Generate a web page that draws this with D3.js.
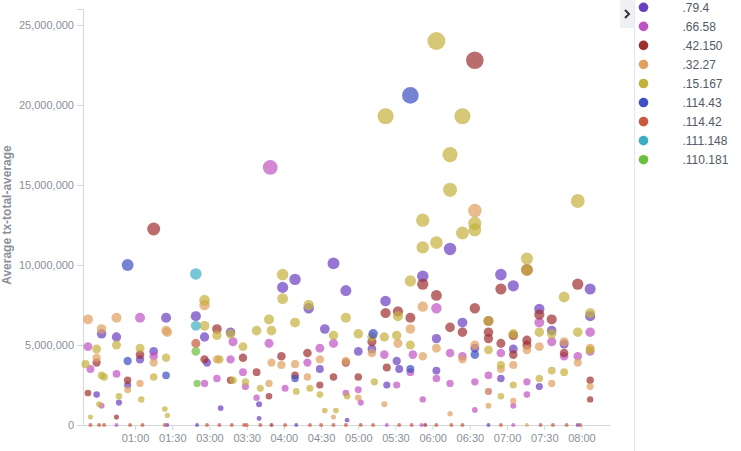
<!DOCTYPE html>
<html><head><meta charset="utf-8">
<script src="https://cdn.jsdelivr.net/npm/d3@7"></script>
<style>
html,body{margin:0;padding:0;background:#fff;}
svg{display:block;font-family:"Liberation Sans",Arial,Helvetica,sans-serif;}
</style></head>
<body>
<svg id="chart" width="741" height="451"></svg>
<script>
// ---- data (x = minutes along axis, y = value in millions) ----
const seriesNames = [".79.4", ".66.58", ".42.150", ".32.27", ".15.167", ".114.43", ".114.42", ".111.148", ".110.181"];
const seriesColors = ["#6a3fbf", "#bf52c2", "#9e2f2f", "#e0a05f", "#c4b13c", "#3c4fc3", "#c9583c", "#3caec3", "#6cbf3c"];
const xTickLabels = ["01:00","01:30","03:00","03:30","04:00","04:30","05:00","05:30","06:00","06:30","07:00","07:30","08:00"];
const yTickValues = [0, 5e6, 10e6, 15e6, 20e6, 25e6];

const s79_4 = [[314,11.0],[220,10.1],[189,9.1],[292,9.3],[355,9.4],[365,8.7],[427,8.5],[179,8.6],[230,8.4],[200,7.3],[262,7.75],[386,7.25],[427,6.8],[324,6.4],[396,5.9],[303,5.4],[365,4.75],[334,4.8],[406,5.06],[303,3.4],[355,2.9],[386,2.4],[213,6.0],[251,4.75],[240,4.6],[271,4.0],[273,3.5],[209,3.5],[263,2.5],[160,1.3],[160,0.4],[231,0.3],[85,6.7],[109,6.8],[137,5.8],[33,5.7],[45,5.5],[116,5.5],[75,4.6],[64,4.1],[118,3.9],[54,2.5],[29,1.9],[47,1.4],[129,1.06],[86,0],[110,0],[190,0],[345,0],[417,0]];
const s66_58 = [[169,16.1],[303,7.3],[386,6.4],[396,5.2],[427,5.8],[355,4.5],[314,4.5],[324,4.3],[406,4.3],[417,4.3],[427,4.6],[303,2.9],[345,3.1],[314,2.6],[334,2.7],[345,2.1],[376,2.7],[376,1.9],[365,1.2],[292,1.6],[334,0.94],[168,5.1],[209,4.8],[220,5.1],[199,3.9],[261,4.4],[284,4.4],[282,3.3],[181,2.3],[240,2.2],[271,2.5],[158,1.7],[230,2.0],[242,1.4],[64,6.7],[139,5.2],[22,4.9],[75,4.3],[137,4.1],[24,3.5],[45,3.2],[116,2.6],[126,2.9],[147,3.3],[149,2.4],[33,1.2],[45,0],[263,0],[291,0],[365,0]];
const s42_150 = [[334,22.8],[75,12.25],[376,9.7],[292,8.8],[355,8.5],[417,8.8],[303,8.1],[262,7.0],[272,7.1],[282,6.7],[334,7.3],[386,6.9],[396,6.6],[324,5.8],[314,6.1],[345,6.5],[345,5.8],[345,5.4],[365,5.6],[355,5.1],[376,5.3],[376,5.0],[365,4.4],[406,4.5],[427,2.8],[427,1.6],[251,5.2],[178,4.3],[199,4.5],[230,3.9],[263,3.6],[158,3.3],[189,3.1],[220,3.0],[240,3.0],[209,2.5],[168,1.8],[126,6.0],[64,4.4],[29,3.9],[116,4.1],[147,4.2],[54,2.8],[137,2.8],[22,2.0],[45,0.5],[170,0],[294,0]];
const s32_27 = [[334,13.4],[116,7.5],[282,6.0],[292,7.4],[292,4.3],[303,4.8],[376,4.7],[386,4.9],[334,5.0],[324,4.1],[406,5.2],[417,3.9],[427,4.8],[355,3.5],[365,3.75],[427,2.4],[345,2.1],[396,2.6],[365,1.5],[345,1.2],[314,0.7],[251,4.5],[272,5.1],[178,3.75],[170,3.9],[209,4.1],[230,4.0],[189,3.8],[199,3.0],[168,2.6],[240,1.7],[261,1.3],[220,0.5],[22,6.6],[45,6.7],[33,6.0],[85,5.9],[86,5.8],[75,3.9],[29,4.2],[126,4.1],[54,2.2],[64,2.6],[376,0]];
const s15_167 = [[303,24.0],[262,19.3],[324,19.3],[314,16.9],[314,14.7],[417,14.0],[292,12.8],[334,12.6],[334,12.2],[324,12.0],[303,11.4],[292,11.1],[376,10.4],[376,9.7],[179,9.4],[282,9.0],[406,8.0],[179,7.9],[200,7.5],[116,7.8],[272,6.8],[386,5.8],[427,7.0],[345,6.5],[365,5.7],[396,5.7],[417,5.8],[345,4.7],[427,4.7],[355,3.75],[386,2.9],[396,3.4],[406,3.3],[365,2.5],[355,1.8],[168,6.6],[170,5.9],[158,5.9],[189,6.4],[230,6.7],[220,5.6],[240,5.7],[251,5.5],[261,5.5],[271,5.6],[282,5.0],[253,2.7],[161,2.3],[190,2.1],[201,2.3],[209,1.9],[231,1.8],[213,0.9],[222,0.9],[116,6.2],[126,5.6],[137,5.7],[45,5.0],[29,4.75],[64,4.8],[147,4.9],[85,4.2],[128,4.1],[20,3.8],[33,3.1],[35,3.0],[75,3.0],[139,2.8],[149,2.7],[47,1.8],[65,1.6],[31,1.3],[84,1.0],[86,0.6],[24,0.5]];
const s114_43 = [[282,20.6],[54,10.0],[252,5.7],[282,3.5],[189,2.9],[54,4.0],[85,3.1],[334,4.4]];
const s114_42 = [[109,5.1],[24,0],[31,0],[35,0],[56,0],[66,0],[84,0],[118,0],[128,0],[138,0],[148,0],[150,0],[161,0],[181,0],[201,0],[210,0],[220,0],[230,0],[242,0],[252,0],[273,0],[283,0],[303,0],[315,0],[324,0],[355,0],[387,0],[397,0],[408,0],[419,0]];
const s111_148 = [[109,9.44],[109,6.2]];
const s110_181 = [[109,4.6],[110,2.6]];
const seriesData = [s79_4, s66_58, s42_150, s32_27, s15_167, s114_43, s114_42, s111_148, s110_181];

// ---- chart ----
const svg = d3.select("#chart");
const x = d3.scaleLinear().domain([18, 443]).range([83, 610]);
const y = d3.scaleLinear().domain([0, 26e6]).range([425, 9]);
const r = d3.scalePow().exponent(0.655).domain([0, 24e6]).range([2, 9]);
const xTickValues = xTickLabels.map((d, i) => 60 + 30 * i);

const axisColor = "#d3d7de";
const labelColor = "#8a9099";

const gy = svg.append("g").attr("transform", "translate(83,0)")
  .call(d3.axisLeft(y).tickValues(yTickValues).tickFormat(d3.format(",")).tickSize(6).tickPadding(3));
const gx = svg.append("g").attr("transform", "translate(0,425)")
  .call(d3.axisBottom(x).tickValues(xTickValues).tickFormat((d, i) => xTickLabels[i]).tickSize(5).tickPadding(4).tickSizeOuter(0));
[gx, gy].forEach(g => {
  g.selectAll("path,line").attr("stroke", axisColor);
  g.selectAll("text").attr("fill", labelColor).style("font-size", "11px");
});

svg.append("text")
  .attr("transform", "translate(7,215) rotate(-90)")
  .attr("text-anchor", "middle")
  .attr("dominant-baseline", "central")
  .style("font-size", "12px").style("font-weight", "bold")
  .attr("fill", labelColor)
  .text("Average tx-total-average");

const plot = svg.append("g");
seriesData.forEach((data, si) => {
  plot.append("g").selectAll("circle").data(data).join("circle")
    .attr("cx", d => x(d[0]))
    .attr("cy", d => y(d[1] * 1e6))
    .attr("r", d => r(d[1] * 1e6))
    .attr("fill", seriesColors[si])
    .attr("fill-opacity", 0.7);
});

// ---- legend ----
svg.append("line").attr("x1", 634.5).attr("x2", 634.5).attr("y1", 0).attr("y2", 451).attr("stroke", "#e3e6ea");
svg.append("rect").attr("x", 620).attr("y", 0).attr("width", 14).attr("height", 28).attr("rx", 2).attr("fill", "#eef0f3");
svg.append("path").attr("d", "M625 10 L629 14 L625 18").attr("fill", "none").attr("stroke", "#333").attr("stroke-width", 2);

const leg = svg.append("g").selectAll("g").data(seriesNames).join("g")
  .attr("transform", (d, i) => `translate(643.5,${7.3 + i * 19.05})`);
leg.append("circle").attr("r", 4.8).attr("fill", (d, i) => seriesColors[i]);
leg.append("text").attr("x", 39).attr("dy", "0.35em").style("font-size", "12px").attr("fill", "#535966").text(d => d);
</script>
</body></html>
